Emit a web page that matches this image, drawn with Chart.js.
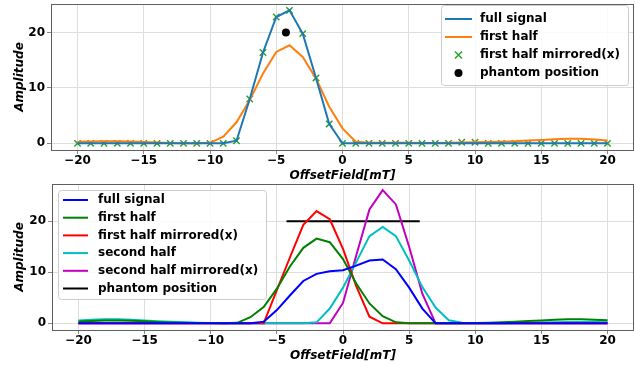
<!DOCTYPE html>
<html>
<head>
<meta charset="utf-8">
<script src="https://cdn.jsdelivr.net/npm/chart.js@4.4.0/dist/chart.umd.min.js"></script>
<style>
  body { margin: 0; background: #fff; }
  canvas { position: absolute; left: 0; }
  #topChart { top: 0; }
  #bottomChart { top: 180px; }
</style>
</head>
<body>
<canvas id="topChart" width="635" height="185"></canvas>
<canvas id="bottomChart" width="635" height="185"></canvas>
<script>
// offset field values (mT)
const offsets = [-20, -19, -18, -17, -16, -15, -14, -13, -12, -11, -10, -9, -8, -7, -6, -5, -4, -3, -2, -1,
  0, 1, 2, 3, 4, 5, 6, 7, 8, 9, 10, 11, 12, 13, 14, 15, 16, 17, 18, 19, 20];
const xTicks = [-20, -15, -10, -5, 0, 5, 10, 15, 20];
const yTicks = [0, 10, 20];

// upper plot
const fullSignalTop = [0, 0, 0, 0, 0, 0, 0, 0, 0, 0, 0, 0, 0.47, 8.0, 16.4, 22.8, 24.0, 19.8, 11.8, 3.5,
  0, 0, 0, 0, 0, 0, 0, 0, 0, 0, 0, 0, 0, 0, 0, 0, 0, 0, 0, 0, 0];
const firstHalfTop = [0.3, 0.35, 0.4, 0.4, 0.35, 0.25, 0.15, 0.05, 0, 0, 0.1, 1.2, 3.8, 7.8, 12.6, 16.5, 17.7, 15.6, 11.7, 6.6,
  2.7, 0.3, 0.1, 0.1, 0.1, 0.1, 0.05, 0.05, 0.1, 0.15, 0.2, 0.25, 0.3, 0.4, 0.5, 0.6, 0.75, 0.85, 0.85, 0.7, 0.5];
const mirroredTop = [0, 0, 0, 0, 0, 0, 0, 0, 0, 0, 0, 0, 0.47, 8.0, 16.4, 22.8, 24.0, 19.8, 11.8, 3.5,
  0, 0, 0, 0, 0, 0, 0, 0, 0, 0.2, 0.2, 0, 0, 0, 0, 0, 0, 0, 0, 0, 0];
const phantomTopX = [-4.27];
const phantomTopY = [20];

// lower plot
const fullSignalBot = [0, 0, 0, 0, 0, 0, 0, 0, 0, 0, 0, 0, 0, 0, 0.3, 2.6, 5.5, 8.3, 9.7, 10.2,
  10.4, 11.3, 12.3, 12.5, 10.6, 7.0, 2.9, 0, 0, 0, 0, 0, 0, 0, 0, 0, 0, 0, 0, 0, 0];
const firstHalfBot = [0.35, 0.45, 0.55, 0.55, 0.5, 0.4, 0.25, 0.15, 0.1, 0.05, 0.05, 0, 0.1, 1.2, 3.2, 6.8, 11.2, 14.8, 16.6, 15.9,
  12.6, 7.8, 3.9, 1.4, 0.2, 0, 0, 0, 0, 0, 0.05, 0.1, 0.2, 0.3, 0.45, 0.55, 0.7, 0.8, 0.8, 0.7, 0.6];
const firstMirroredBot = [0, 0, 0, 0, 0, 0, 0, 0, 0, 0, 0, 0, 0, 0, 0, 6.5, 13.0, 19.3, 22.0, 20.4,
  14.6, 7.3, 1.3, 0, 0, 0, 0, 0, 0, 0, 0, 0, 0, 0, 0, 0, 0, 0, 0, 0, 0];
const secondHalfBot = [0.55, 0.7, 0.8, 0.8, 0.7, 0.55, 0.4, 0.3, 0.2, 0.1, 0.05, 0, 0, 0, 0, 0, 0, 0, 0.2, 2.9,
  7.0, 12.0, 17.1, 18.9, 17.1, 12.3, 7.1, 3.1, 0.6, 0.1, 0, 0, 0, 0.05, 0.1, 0.15, 0.2, 0.25, 0.25, 0.25, 0.2];
const secondMirroredBot = [0, 0, 0, 0, 0, 0, 0, 0, 0, 0, 0, 0, 0, 0, 0, 0, 0, 0, 0, 0,
  4.0, 13.3, 22.3, 26.1, 23.3, 15.0, 5.8, 0, 0, 0, 0, 0, 0, 0, 0, 0, 0, 0, 0, 0, 0];
const phantomBotX = [-4.27, 5.8];
const phantomBotY = [20, 20];

const FONT = "'DejaVu Sans', sans-serif";

function pts(xs, ys) {
  return xs.map((x, i) => ({ x: x, y: ys[i] }));
}

function lineSet(label, color, ys) {
  return {
    label: label,
    data: pts(offsets, ys),
    borderColor: color,
    backgroundColor: color,
    borderWidth: 2,
    pointRadius: 0,
    tension: 0,
  };
}

// full box round the plot area
const framePlugin = {
  id: "frame",
  afterDraw(chart) {
    const a = chart.chartArea;
    const ctx = chart.ctx;
    ctx.save();
    ctx.strokeStyle = "#5f5f5f";
    ctx.lineWidth = 1;
    ctx.strokeRect(Math.round(a.left) + 0.5, Math.round(a.top) + 0.5,
      Math.round(a.right - a.left) - 1, Math.round(a.bottom - a.top));
    ctx.restore();
  },
};

// matplotlib style legend inside the axes
const boxLegend = {
  id: "boxLegend",
  afterDraw(chart, args, o) {
    const ctx = chart.ctx;
    ctx.save();
    ctx.fillStyle = "rgba(255,255,255,0.85)";
    ctx.strokeStyle = "#cccccc";
    ctx.lineWidth = 1;
    ctx.beginPath();
    ctx.roundRect(o.x + 0.5, o.y + 0.5, o.w, o.h, 3);
    ctx.fill();
    ctx.stroke();

    ctx.font = "bold 12px " + FONT;
    ctx.textBaseline = "middle";
    chart.data.datasets.forEach((ds, i) => {
      const y = o.row0 + i * o.dy;
      const midX = (o.hx0 + o.hx1) / 2;
      if (ds.showLine === false) {
        ctx.strokeStyle = ds.borderColor;
        ctx.fillStyle = ds.backgroundColor;
        if (ds.pointStyle === "crossRot") {
          const r = 3.5;
          ctx.lineWidth = 1.5;
          ctx.beginPath();
          ctx.moveTo(midX - r, y - r); ctx.lineTo(midX + r, y + r);
          ctx.moveTo(midX - r, y + r); ctx.lineTo(midX + r, y - r);
          ctx.stroke();
        } else {
          ctx.beginPath();
          ctx.arc(midX, y, 4, 0, Math.PI * 2);
          ctx.fill();
        }
      } else {
        ctx.strokeStyle = ds.borderColor;
        ctx.lineWidth = 2;
        ctx.beginPath();
        ctx.moveTo(o.hx0, y);
        ctx.lineTo(o.hx1, y);
        ctx.stroke();
      }
      ctx.fillStyle = "#000";
      ctx.fillText(ds.label, o.tx, y);
    });
    ctx.restore();
  },
};

function minus(v) {
  return String(v).replace("-", "\u2212");
}

function noPad(s) {
  s.paddingTop = 0;
  s.paddingBottom = 0;
  s.paddingLeft = 0;
  s.paddingRight = 0;
}

function makeOptions(yMin, yMax, yWidth, xHeight, titlePad, legend) {
  return {
    responsive: false,
    animation: false,
    layout: { autoPadding: false, padding: { top: 4, right: 1, left: 0, bottom: 0 } },
    plugins: {
      legend: { display: false },
      tooltip: { enabled: false },
      boxLegend: legend,
    },
    scales: {
      x: {
        type: "linear",
        min: -22,
        max: 22,
        afterBuildTicks: (s) => { s.ticks = xTicks.map((v) => ({ value: v })); },
        afterFit: (s) => { s.height = xHeight; noPad(s); },
        grid: { color: "#dedede", tickColor: "#8a8a8a", tickLength: 4, drawOnChartArea: true },
        border: { display: false },
        ticks: {
          color: "#000",
          padding: 0,
          maxRotation: 0,
          font: { family: FONT, size: 12, weight: "bold" },
          callback: (v) => minus(v),
        },
        title: {
          display: true,
          text: "OffsetField[mT]",
          color: "#000",
          padding: { top: 0, bottom: titlePad },
          font: { family: FONT, size: 12, weight: "bold", style: "italic", lineHeight: 1 },
        },
      },
      y: {
        min: yMin,
        max: yMax,
        afterBuildTicks: (s) => { s.ticks = yTicks.map((v) => ({ value: v })); },
        afterFit: (s) => { s.width = yWidth; noPad(s); },
        grid: { color: "#dedede", tickColor: "#8a8a8a", tickLength: 4 },
        border: { display: false },
        ticks: {
          color: "#000",
          padding: 2,
          font: { family: FONT, size: 12, weight: "bold" },
          callback: (v) => minus(v),
        },
        title: {
          display: true,
          text: "Amplitude",
          color: "#000",
          padding: { top: 14, bottom: 0 },
          font: { family: FONT, size: 12, weight: "bold", style: "italic", lineHeight: 1 },
        },
      },
    },
  };
}

new Chart(document.getElementById("topChart"), {
  type: "line",
  data: {
    datasets: [
      lineSet("full signal", "#1f77b4", fullSignalTop),
      lineSet("first half", "#ff7f0e", firstHalfTop),
      {
        label: "first half mirrored(x)",
        data: pts(offsets, mirroredTop),
        showLine: false,
        pointStyle: "crossRot",
        pointRadius: 4.5,
        borderWidth: 1.5,
        borderColor: "#2ca02c",
        backgroundColor: "#2ca02c",
      },
      {
        label: "phantom position",
        data: pts(phantomTopX, phantomTopY),
        showLine: false,
        pointStyle: "circle",
        pointRadius: 4,
        borderWidth: 0,
        borderColor: "#000",
        backgroundColor: "#000",
      },
    ],
  },
  options: makeOptions(-1.2, 25.15, 51, 35, 3,
    { x: 441, y: 5, w: 187, h: 80, row0: 19, dy: 18, hx0: 445, hx1: 472, tx: 480 }),
  plugins: [framePlugin, boxLegend],
});

new Chart(document.getElementById("bottomChart"), {
  type: "line",
  data: {
    datasets: [
      lineSet("full signal", "#0000ff", fullSignalBot),
      lineSet("first half", "#008000", firstHalfBot),
      lineSet("first half mirrored(x)", "#ff0000", firstMirroredBot),
      lineSet("second half", "#00bfbf", secondHalfBot),
      lineSet("second half mirrored(x)", "#bf00bf", secondMirroredBot),
      {
        label: "phantom position",
        data: pts(phantomBotX, phantomBotY),
        borderColor: "#000",
        backgroundColor: "#000",
        borderWidth: 2,
        pointRadius: 0,
      },
    ],
  },
  options: makeOptions(-1.3, 27.3, 52, 35, 3,
    { x: 58, y: 10, w: 208, h: 109, row0: 20, dy: 17.7, hx0: 63, hx1: 88, tx: 98 }),
  plugins: [framePlugin, boxLegend],
});
</script>
</body>
</html>
